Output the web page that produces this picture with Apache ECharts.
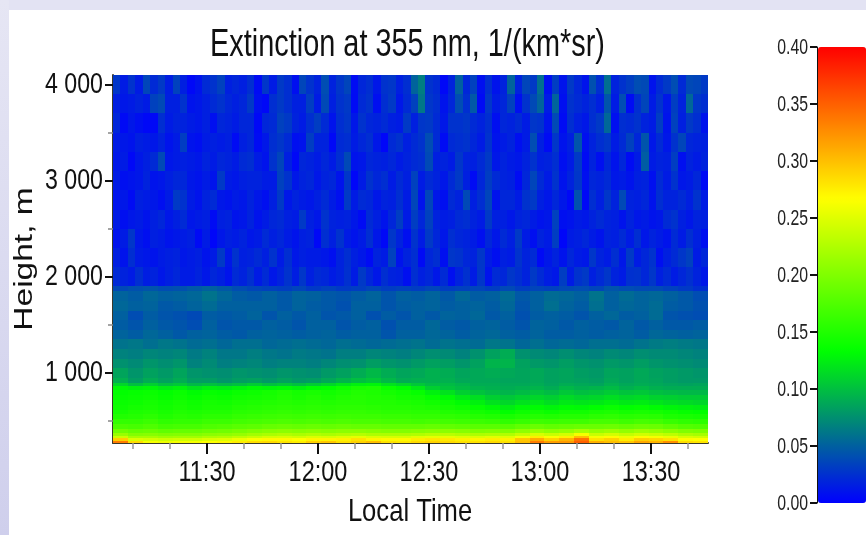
<!DOCTYPE html>
<html>
<head>
<meta charset="utf-8">
<style>html,body{margin:0;padding:0;background:#fff}#c{width:866px;height:535px}</style>
<script src="https://cdn.jsdelivr.net/npm/echarts@6/dist/echarts.min.js"></script>
</head>
<body>
<div id="c"></div>
<script>
var titleText = 'Extinction at 355 nm, 1/(km*sr)';
var xName = 'Local Time';
var yName = 'Height, m';
var majorTimes = [690, 720, 750, 780, 810];
var minorTimes = [670, 680, 700, 710, 730, 740, 760, 770, 790, 800, 820];
var majorHeights = [1000, 2000, 3000, 4000];
var minorHeights = [500, 1500, 2500, 3500];
var colorbarTicks = [0, 0.05, 0.1, 0.15, 0.2, 0.25, 0.3, 0.35, 0.4];
var colorStops = ['#0000ff', '#00ff00', '#ffff00', '#ff0000'];
// height band edges (m) from the top of the plot down
var bandEdges = [4100,3900,3700,3500,3300,3100,2900,2700,2500,2300,2100,1900,1850,1750,1650,1550,1450,1350,1250,1150,1050,950,900,860,820,770,720,670,620,570,520,470,420,380,345,320,295,272];
// extinction x1000, one array per band, named by the band's lower edge
var e3900 = [28,14,26,14,36,22,30,15,34,16,4,10,22,26,34,16,20,16,24,6,28,14,30,24,8,36,26, 18,40,18,28,36,6,20,24,12,26,28,16,24,52,66,26,22,4,18,50,20,34,8,24,10,18, 52,18,36,30,58,8,32,10,30,20,10,42,24,58,18,26,32,40,38,10,22,30,40,22,38,36,30];
var e3700 = [16,12,14,18,14,34,38,16,16,26,10,12,16,22,26,20,16,20,30,8,4,24,30,24,16,16,32, 14,38,16,26,30,5,22,26,8,24,30,12,22,34,62,28,24,10,20,40,24,46,5,28,14,20, 34,8,26,38,52,14,52,8,26,22,18,24,16,44,14,40,6,24,36,14,26,12,32,18,54,28,24];
var e3500 = [20,5,12,8,4,4,24,14,18,18,14,12,16,8,20,18,14,20,20,4,20,22,34,30,18,14,24, 32,22,10,24,28,12,26,20,18,22,16,14,30,16,28,30,22,12,26,26,28,22,18,24,8,20, 18,22,14,28,26,10,38,6,24,16,12,24,30,54,8,24,22,26,18,14,32,10,34,16,30,24,10];
var e3300 = [14,12,10,16,14,12,18,10,14,32,10,8,14,16,14,16,6,16,20,6,12,24,28,22,8,10,32, 18,18,4,22,24,14,20,24,12,3,22,26,16,22,26,40,22,6,22,24,26,20,14,26,10,14, 18,8,14,40,16,6,28,10,16,44,8,18,24,28,14,22,34,20,44,12,22,12,26,36,20,18,16];
var e3100 = [12,14,4,12,16,22,38,12,14,16,14,12,18,14,20,18,14,22,24,14,10,26,36,16,4,20,18, 14,20,14,24,38,10,12,20,18,16,20,14,18,22,24,38,16,18,14,28,18,16,22,30,12,18, 14,12,18,26,16,18,24,8,14,30,6,18,8,20,10,20,6,14,48,14,18,16,32,8,18,14,18];
var e2900 = [14,8,10,12,18,10,12,16,20,20,12,10,14,10,30,14,12,16,18,18,14,14,34,26,12,18,20, 12,18,20,10,28,3,14,26,20,24,14,22,16,34,14,22,18,12,22,30,16,6,20,32,22,18, 16,6,20,36,22,14,26,10,18,28,8,20,18,22,12,14,10,16,18,8,22,14,26,12,14,20,5];
var e2700 = [10,12,6,16,14,12,8,14,30,26,14,10,18,22,12,10,14,12,18,12,8,16,30,12,18,14,12, 16,22,14,8,30,14,22,20,12,18,16,24,14,36,10,36,12,8,22,18,38,16,24,36,10,20, 20,14,26,30,16,12,20,12,4,42,4,24,16,28,18,38,18,16,20,10,24,18,18,22,16,26,14];
var e2500 = [14,8,12,14,10,16,20,12,16,22,12,14,16,6,16,18,10,12,18,10,14,20,22,16,14,30,16, 12,26,18,16,18,12,6,22,16,10,20,32,14,32,20,34,18,14,16,22,24,18,14,30,16,16, 12,18,20,14,10,12,34,8,10,14,12,18,22,18,16,10,18,12,14,10,12,22,26,16,12,18,16];
var e2300 = [10,14,28,12,8,16,14,10,12,14,16,5,14,3,12,16,14,18,12,14,22,16,20,14,10,16,18, 4,24,16,26,14,10,14,24,12,4,28,18,8,26,14,30,20,12,24,20,18,14,8,20,12,22, 16,30,14,8,18,14,32,3,14,16,20,14,10,18,16,22,14,24,12,18,14,10,22,14,24,16,8];
var e2100 = [16,10,24,14,12,10,14,16,18,12,14,16,10,14,30,12,26,16,18,22,16,26,14,24,12,16,14, 14,12,8,18,24,16,12,6,18,14,34,10,18,24,5,20,24,8,28,26,20,18,28,14,8,16, 14,26,18,22,5,12,18,10,20,14,12,28,18,14,24,12,30,14,20,26,8,16,22,28,34,14,20];
var e1900 = [22,18,14,24,15,18,12,16,20,14, 14,18,12,20,16,10,22,18,25,14, 22,12,18,26,15,28,16,22,20,14, 18,25,14,30,20,12,24,18,16,8, 24,16,20,12,22,8,18,25,14,28, 10,22,20,28,24,18,30,22,15,12, 32,14,26,30,16,22,28,18,14,25, 26,20,28,16,22,14,20,25,18,12];
var e1850 = [38,42,44,40,42,46,50,46,40,36, 34,32,36,30,34,30,32,36,32,34, 32,36,32,34,36,32,38,32,36,34, 38,40,36,44,40,38,38,34,30,24];
var e1750 = [52,48,54,50,52,54,60,54,48,46, 50,46,52,50,46,44,48,52,44,50, 48,52,46,54,48,50,56,46,50,56, 54,50,60,50,56,52,54,50,46,40];
var e1650 = [54,50,52,46,48,52,56,50,50,50, 50,46,52,48,46,42,50,50,44,48, 50,52,48,50,52,48,54,44,50,58, 52,48,58,50,54,52,56,48,46,42];
var e1550 = [50,40,48,44,42,38,48,46,48,52, 44,50,46,50,44,46,50,42,48,44, 50,46,52,50,54,46,50,42,48,50, 48,44,50,54,48,50,56,44,42,40];
var e1450 = [48,44,50,46,44,40,50,44,46,46, 50,48,44,50,50,44,48,50,42,48, 48,54,48,46,50,52,48,44,52,50, 46,50,48,46,52,46,50,46,46,48];
var e1350 = [52,48,54,50,46,50,52,48,46,50, 52,50,48,50,52,48,50,50,44,50, 50,54,52,48,52,54,50,48,52,48, 48,50,48,50,52,48,54,52,50,52];
var e1250 = [60,62,58,62,60,56,58,54,58,58, 54,56,58,56,54,58,56,54,56,58, 60,56,60,58,56,62,60,54,58,54, 56,54,58,58,56,60,64,66,64,62];
var e1150 = [68,66,70,68,70,64,68,62,62,66, 62,60,64,62,60,66,66,70,68,66, 70,74,72,68,76,84,90,76,72,70, 74,70,68,72,70,74,72,72,70,68];
var e1050 = [76,72,78,74,78,68,72,66,68,70, 66,68,68,66,70,74,76,82,78,76, 80,84,82,78,84,94,94,84,80,78, 82,78,76,80,78,82,78,76,74,72];
var e950 = [86,78,84,80,86,78,76,74,78,76, 74,78,76,74,80,84,90,96,90,86, 88,92,90,86,88,90,88,86,88,84, 86,82,80,86,84,88,84,82,80,78];
var e900 = [92,82,90,84,90,82,82,78,82,84, 80,84,80,82,88,94,100,104,96,90, 92,92,92,88,88,88,86,86,88,84, 86,84,82,88,84,88,86,82,80,80];
var e860 = [112,100,108,100,104,96,100,96,100,106, 100,104,100,106,112,120,126,128,118,112, 104,98,98,94,90,90,88,88,90,86, 90,88,86,92,88,90,88,86,84,86];
var e820 = [130,126,128,122,126,118,124,122,126,130, 128,130,126,132,134,140,146,148,138,132, 122,108,102,98,94,92,90,92,94,90, 96,92,94,98,92,96,92,90,90,90];
var e770 = [134,136,138,134,138,132,136,134,138,140, 144,148,144,146,142,146,150,148,144,140, 136,126,118,108,102,98,94,98,102,98, 104,100,102,106,102,104,100,98,96,96];
var e720 = [136,138,140,136,140,136,140,138,142,144, 146,150,146,150,146,150,152,150,148,144, 142,136,130,122,116,108,104,108,112,108, 114,110,112,116,112,114,110,108,106,106];
var e670 = [138,140,144,140,144,140,144,142,146,148, 150,152,150,152,150,152,152,150,150,148, 146,142,138,132,126,118,112,118,122,116, 122,120,122,126,122,124,120,116,114,112];
var e620 = [140,144,146,142,146,142,146,146,150,152, 154,156,154,156,154,156,156,154,152,152, 150,148,144,140,136,130,124,130,132,128, 132,130,134,138,134,136,132,128,126,124];
var e570 = [144,148,150,146,150,148,150,150,154,156, 158,160,158,160,158,160,160,158,156,156, 154,154,150,148,144,140,134,140,142,138, 142,142,146,148,144,146,144,140,136,134];
var e520 = [150,152,156,150,154,152,156,156,160,162, 164,166,164,166,164,166,164,164,162,162, 160,160,158,156,152,150,146,150,152,150, 152,152,156,158,154,156,154,148,146,144];
var e470 = [160,160,164,158,160,160,164,164,168,170, 172,174,172,174,172,174,172,172,170,170, 168,170,168,166,164,162,158,162,166,164, 166,166,170,170,166,170,168,162,158,156];
var e420 = [172,170,174,168,170,170,174,176,180,182, 186,188,186,188,186,188,186,186,184,184, 184,186,184,182,180,180,178,184,188,184, 186,188,188,190,186,190,188,182,176,174];
var e380 = [192,186,188,184,186,186,190,192,196,200, 204,206,204,206,204,206,206,204,202,202, 204,206,206,204,200,202,200,208,214,208, 212,220,212,216,210,216,212,206,200,198];
var e345 = [214,202,204,200,202,202,206,208,212,218, 222,226,222,226,222,226,228,224,224,224, 226,230,230,226,224,226,226,236,246,238, 244,262,238,244,236,242,238,232,224,220];
var e320 = [240,220,220,216,218,218,224,226,232,238, 244,246,242,248,246,250,254,248,246,246, 252,254,254,250,248,252,250,262,276,264, 274,300,262,268,258,268,262,256,246,242];
var e295 = [292,248,244,240,242,242,248,250,258,264, 270,270,266,272,272,274,282,272,270,270, 276,280,278,274,272,276,274,296,310,290, 306,340,282,290,276,292,288,282,268,266];
var e272 = [335,285,262,258,262,262,266,270,276,284, 286,280,276,290,296,282,290,300,282,278, 286,290,286,282,282,286,282,300,335,318, 320,350,308,300,296,312,306,325,284,280];
var bands = [e3900,e3700,e3500,e3300,e3100,e2900,e2700,e2500,e2300,e2100,e1900,e1850,e1750,e1650,e1550,e1450,e1350,e1250,e1150,e1050,e950,e900,e860,e820,e770,e720,e670,e620,e570,e520,e470,e420,e380,e345,e320,e295,e272];

var xMin = 664.6, xMax = 825.4, yMin = 272, yMax = 4100;
var FONT = '"Liberation Sans",Arial,sans-serif';

var cells = [];
bands.forEach(function (row, b) {
  var w = (xMax - xMin) / row.length;
  row.forEach(function (v, i) {
    cells.push([xMin + i * w, xMin + (i + 1) * w, bandEdges[b + 1], bandEdges[b], v / 1000]);
  });
});

function hhmm(m) {
  var h = Math.floor(m / 60), n = Math.round(m - h * 60);
  return h + ':' + (n < 10 ? '0' : '') + n;
}
function spaced(v) {
  return v >= 1000 ? Math.floor(v / 1000) + ' ' + ('00' + (v % 1000)).slice(-3) : String(v);
}
function label(text, x, y, size, align, scaleX, fill, rotation) {
  return {
    type: 'text', silent: true, x: x, y: y, scaleX: scaleX, scaleY: 1, rotation: rotation || 0, z: 50,
    style: { text: text, fill: fill, font: size + 'px ' + FONT, textAlign: align, textVerticalAlign: 'middle' }
  };
}

var chart = echarts.init(document.getElementById('c'), null, { renderer: 'canvas' });
var backdrop = [
  { type: 'rect', silent: true, z: -10, shape: { x: 0, y: 0, width: 866, height: 10 }, style: { fill: '#e3e3f3' } },
  { type: 'rect', silent: true, z: -10, shape: { x: 0, y: 0, width: 9, height: 535 },
    style: { fill: new echarts.graphic.LinearGradient(0, 0, 0, 1, [{ offset: 0, color: '#e6e6f4' }, { offset: 1, color: '#cfcfec' }]) } }
];
chart.setOption({
  animation: false,
  backgroundColor: '#ffffff',
  graphic: backdrop,
  grid: [
    { left: 113, top: 75, width: 595, height: 368, outerBoundsMode: 'none' },
    { left: 817, top: 47, width: 49, height: 456, outerBoundsMode: 'none' }
  ],
  xAxis: [
    { type: 'value', gridIndex: 0, min: xMin, max: xMax,
      splitLine: { show: false },
      axisLine: { show: true, onZero: false, lineStyle: { color: '#3a3a2a', width: 2 } },
      axisTick: { show: true, length: 11, customValues: majorTimes, lineStyle: { color: '#111', width: 2 } },
      axisLabel: { show: false } },
    { type: 'value', gridIndex: 0, min: xMin, max: xMax, position: 'bottom',
      splitLine: { show: false }, axisLine: { show: false }, axisLabel: { show: false },
      axisTick: { show: true, length: 6, customValues: minorTimes, lineStyle: { color: '#999', width: 1.5 } } },
    { type: 'value', gridIndex: 1, min: 0, max: 1, show: false }
  ],
  yAxis: [
    { type: 'value', gridIndex: 0, min: yMin, max: yMax,
      splitLine: { show: false },
      axisLine: { show: true, onZero: false, lineStyle: { color: '#3a3a2a', width: 2 } },
      axisTick: { show: true, length: 8, customValues: majorHeights, lineStyle: { color: '#111', width: 2 } },
      axisLabel: { show: false } },
    { type: 'value', gridIndex: 0, min: yMin, max: yMax, position: 'left',
      splitLine: { show: false }, axisLine: { show: false }, axisLabel: { show: false },
      axisTick: { show: true, length: 5, customValues: minorHeights, lineStyle: { color: '#888', width: 1.5 } } },
    { type: 'value', gridIndex: 1, min: 0, max: 0.4, interval: 0.05, position: 'left',
      splitLine: { show: false },
      axisLine: { show: true, onZero: false, lineStyle: { color: '#111', width: 1 } },
      axisTick: { show: true, length: 7, lineStyle: { color: '#111', width: 2 } },
      axisLabel: { show: false } }
  ],
  visualMap: {
    type: 'continuous', seriesIndex: 0, dimension: 4, min: 0, max: 0.4,
    left: 818, top: 47, itemWidth: 48, itemHeight: 456, padding: 0,
    calculable: false, realtime: false, hoverLink: false, text: ['', ''], showLabel: false,
    inRange: { color: colorStops }
  },
  series: [{
    type: 'custom', xAxisIndex: 0, yAxisIndex: 0, data: cells, z: 1,
    encode: { x: [0, 1], y: [2, 3] },
    renderItem: function (params, api) {
      var a = api.coord([api.value(0), api.value(3)]);
      var b = api.coord([api.value(1), api.value(2)]);
      var x0 = Math.round(a[0]), y0 = Math.round(a[1]);
      return {
        type: 'rect',
        shape: { x: x0, y: y0, width: Math.round(b[0]) - x0, height: Math.round(b[1]) - y0 },
        style: { fill: api.visual('color') }
      };
    }
  }]
});
// The reference's lettering is horizontally squeezed: text is set in Liberation Sans and scaled,
// with tick label positions taken from the axes' own scales.
var texts = backdrop.slice();
texts.push(label(titleText, 407.5, 46, 38, 'center', 0.76, '#111'));
texts.push(label(xName, 410, 512, 32, 'center', 0.8, '#111'));
texts.push(label(yName, 25, 259, 25, 'center', 1.34, '#111', Math.PI / 2));
majorTimes.forEach(function (t) {
  texts.push(label(hhmm(t), chart.convertToPixel({ xAxisIndex: 0 }, t), 473, 29, 'center', 0.81, '#111'));
});
majorHeights.forEach(function (h) {
  texts.push(label(spaced(h), 103, chart.convertToPixel({ yAxisIndex: 0 }, h), 29, 'right', 0.8, '#111'));
});
colorbarTicks.forEach(function (c) {
  texts.push(label(c.toFixed(2), 808, chart.convertToPixel({ yAxisIndex: 2 }, c) + 1, 22, 'right', 0.72, '#222'));
});
chart.setOption({ graphic: texts });
</script>
</body>
</html>
